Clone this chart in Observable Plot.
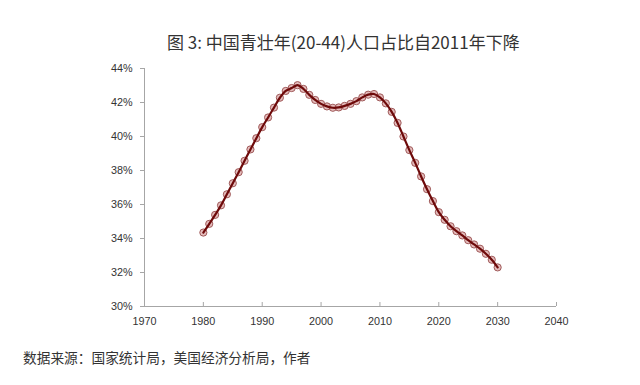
<!DOCTYPE html>
<html>
<head>
<meta charset="utf-8">
<script src="https://cdn.jsdelivr.net/npm/d3@7"></script>
<script src="https://cdn.jsdelivr.net/npm/@observablehq/plot@0.6"></script>
<style>
  body { margin: 0; background: #fff; width: 640px; height: 385px; overflow: hidden; }
  #title { padding-top: 31px; height: 21px; line-height: 21px; font-size: 17px; color: #333;
    font-family: "Noto Sans CJK SC", sans-serif; text-align: left; padding-left: 167px; white-space: nowrap; }
  #caption { padding-top: 7px; line-height: 16px; font-size: 13.7px; color: #333; padding-left: 23px;
    font-family: "Noto Sans CJK SC", sans-serif; white-space: nowrap; }
  svg { display: block; }
</style>
</head>
<body>
<div id="title">图 3: 中国青壮年(20-44)人口占比自2011年下降</div>
<div id="chart"></div>
<div id="caption">数据来源：国家统计局，美国经济分析局，作者</div>
<script>
const years = [1980,1981,1982,1983,1984,1985,1986,1987,1988,1989,1990,1991,1992,1993,1994,1995,1996,1997,1998,1999,2000,2001,2002,2003,2004,2005,2006,2007,2008,2009,2010,2011,2012,2013,2014,2015,2016,2017,2018,2019,2020,2021,2022,2023,2024,2025,2026,2027,2028,2029,2030];
const share = [34.35,34.86,35.39,35.95,36.6,37.25,37.9,38.57,39.24,39.9,40.55,41.12,41.7,42.28,42.68,42.85,43.02,42.8,42.45,42.15,41.92,41.77,41.69,41.71,41.8,41.92,42.08,42.3,42.46,42.5,42.3,41.95,41.45,40.8,40.0,39.2,38.45,37.65,36.9,36.2,35.55,35.1,34.72,34.43,34.18,33.9,33.65,33.4,33.1,32.75,32.3];
const xTicks = [1970,1980,1990,2000,2010,2020,2030,2040];
const yTicks = [30,32,34,36,38,40,42,44];

const data = years.map((y, i) => ({year: y, value: share[i]}));

const chart = Plot.plot({
  width: 640,
  height: 290,
  marginLeft: 144,
  marginRight: 84,
  marginTop: 16,
  marginBottom: 36,
  style: {fontFamily: "Liberation Sans, Arial, sans-serif", fontSize: "10.8px", color: "#333"},
  x: {domain: [1970, 2040]},
  y: {domain: [30, 44]},
  marks: [
    Plot.ruleY([30], {stroke: "#a6a6a6", strokeWidth: 1}),
    Plot.ruleX([1970], {stroke: "#a6a6a6", strokeWidth: 1}),
    Plot.axisX({ticks: xTicks, tickFormat: d => String(d), tickSize: 0, tickPadding: 11, label: null, stroke: "#a6a6a6", fill: "#333"}),
    Plot.axisX({ticks: xTicks, text: null, tickSize: -4, label: null, stroke: "#a6a6a6", anchor: "bottom"}),
    Plot.axisY({ticks: yTicks, tickFormat: d => d + "%", tickSize: 4, tickPadding: 8, label: null, stroke: "#a6a6a6", fill: "#333"}),
    Plot.dot(data, {x: "year", y: "value", r: 3.6, fill: "#d9a0a0", fillOpacity: 0.7, stroke: "#a05a5a", strokeWidth: 1}),
    Plot.line(data, {x: "year", y: "value", curve: "catmull-rom", stroke: "#6e0a0a", strokeWidth: 2.2})
  ]
});
document.getElementById("chart").appendChild(chart);
</script>
</body>
</html>
